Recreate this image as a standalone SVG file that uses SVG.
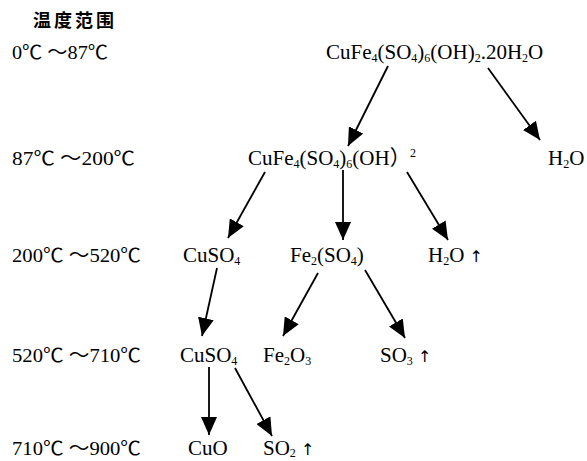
<svg xmlns="http://www.w3.org/2000/svg" width="587" height="461" viewBox="0 0 587 461">
<style>
.t{font-family:"Liberation Serif","Noto Sans CJK SC",serif;font-size:19px;fill:#000}
.c{font-family:"Liberation Serif","Noto Sans CJK SC",serif;font-size:21px;fill:#000}
.s{font-size:12px}
.u{font-family:"DejaVu Sans",sans-serif;font-size:16px;fill:#000}
.h{font-family:"Noto Sans CJK SC",sans-serif;font-size:18px;font-weight:bold;letter-spacing:3px;fill:#000}
.ar{stroke:#000;stroke-width:1.8;fill:none;marker-end:url(#ah)}
</style>
<defs>
<marker id="ah" viewBox="0 0 18 16" markerWidth="18" markerHeight="16" refX="18" refY="8" orient="auto" markerUnits="userSpaceOnUse">
<path d="M0,0 L18,8 L0,16 z" fill="#000"/>
</marker>
</defs>
<g id="labels">
<text class="h" x="33" y="27">温度范围</text>
<text class="t" x="12" y="59" textLength="96" lengthAdjust="spacingAndGlyphs">0℃ ～87℃</text>
<text class="t" x="12" y="165" textLength="123" lengthAdjust="spacingAndGlyphs">87℃ ～200℃</text>
<text class="t" x="12" y="262" textLength="129" lengthAdjust="spacingAndGlyphs">200℃ ～520℃</text>
<text class="t" x="12" y="362" textLength="129" lengthAdjust="spacingAndGlyphs">520℃ ～710℃</text>
<text class="t" x="12" y="455" textLength="129" lengthAdjust="spacingAndGlyphs">710℃ ～900℃</text>
</g>
<g id="n1"><text class="c" x="326" y="59">CuFe<tspan class="s" dy="3">4</tspan><tspan dy="-3">(SO</tspan><tspan class="s" dy="3">4</tspan><tspan dy="-3">)</tspan><tspan class="s" dy="3">6</tspan><tspan dy="-3">(OH)</tspan><tspan class="s" dy="3">2</tspan><tspan dy="-3">.20H</tspan><tspan class="s" dy="3">2</tspan><tspan dy="-3">O</tspan></text></g>
<g id="n2"><text class="c" x="548" y="165">H<tspan class="s" dy="3">2</tspan><tspan dy="-3">O</tspan></text></g>
<g id="n3"><text class="c" x="248" y="165">CuFe<tspan class="s" dy="3">4</tspan><tspan dy="-3">(SO</tspan><tspan class="s" dy="3">4</tspan><tspan dy="-3">)</tspan><tspan class="s" dy="3">6</tspan><tspan dy="-3">(OH）</tspan></text><text class="c s" x="410" y="157">2</text></g>
<g id="n4"><text class="c" x="183" y="262">CuSO<tspan class="s" dy="3">4</tspan></text></g>
<g id="n5"><text class="c" x="290" y="262">Fe<tspan class="s" dy="3">2</tspan><tspan dy="-3">(SO</tspan><tspan class="s" dy="3">4</tspan><tspan dy="-3">)</tspan></text></g>
<g id="n6"><text class="c" x="428" y="262">H<tspan class="s" dy="3">2</tspan><tspan dy="-3">O </tspan><tspan class="u">↑</tspan></text></g>
<g id="n7"><text class="c" x="180" y="362">CuSO<tspan class="s" dy="3">4</tspan></text></g>
<g id="n8"><text class="c" x="263" y="362">Fe<tspan class="s" dy="3">2</tspan><tspan dy="-3">O</tspan><tspan class="s" dy="3">3</tspan></text></g>
<g id="n9"><text class="c" x="380" y="362">SO<tspan class="s" dy="3">3</tspan><tspan dy="-3"> </tspan><tspan class="u">↑</tspan></text></g>
<g id="n10"><text class="c" x="188" y="455">CuO</text></g>
<g id="n11"><text class="c" x="263" y="455">SO<tspan class="s" dy="2">2</tspan><tspan dy="-2"> </tspan><tspan class="u">↑</tspan></text></g>
<g id="connectors">
<line class="ar" x1="388" y1="66" x2="348" y2="146"/>
<line class="ar" x1="488" y1="68" x2="540" y2="140"/>
<line class="ar" x1="265" y1="172" x2="228" y2="238"/>
<line class="ar" x1="343" y1="170" x2="343" y2="240"/>
<line class="ar" x1="407" y1="172" x2="448" y2="240"/>
<line class="ar" x1="217" y1="268" x2="202" y2="336"/>
<line class="ar" x1="318" y1="273" x2="283" y2="336"/>
<line class="ar" x1="365" y1="270" x2="405" y2="338"/>
<line class="ar" x1="209" y1="367" x2="209" y2="435"/>
<line class="ar" x1="235" y1="368" x2="272" y2="436"/>
</g>
</svg>
